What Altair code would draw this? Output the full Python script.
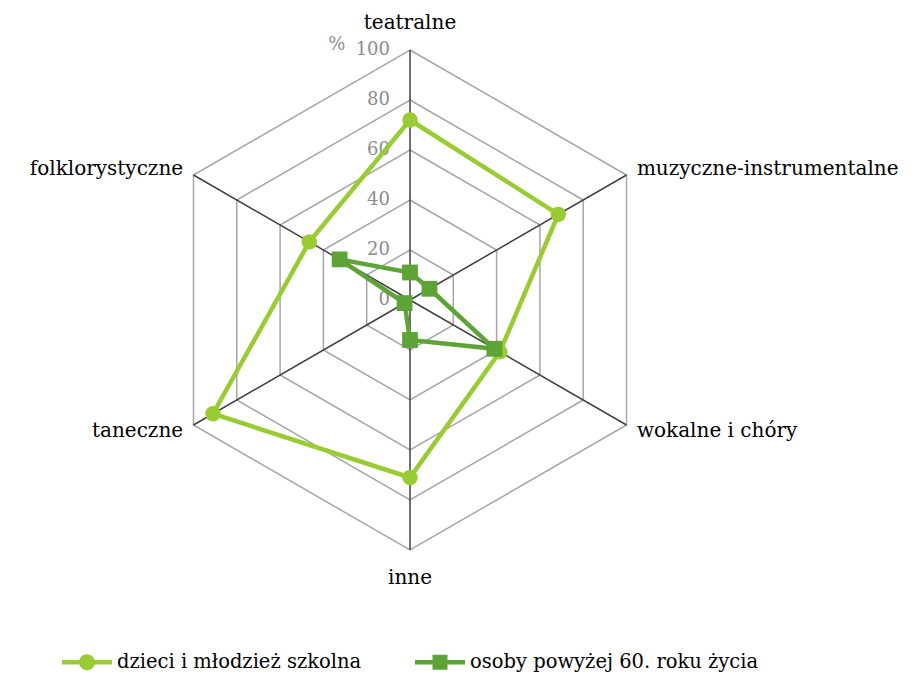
import altair as alt
import pandas as pd

# ---- data -------------------------------------------------------------
categories = ["teatralne", "muzyczne-instrumentalne", "wokalne i chóry",
              "inne", "taneczne", "folklorystyczne"]
series_names = ["dzieci i młodzież szkolna", "osoby powyżej 60. roku życia"]
dzieci = [72, 68.5, 41.5, 71, 91, 46.5]
seniorzy = [11, 9, 39, 16, 2.5, 32.5]
grid_levels = [20, 40, 60, 80, 100]
tick_labels = [0, 20, 40, 60, 80, 100]
unit_label = "%"

# ---- styles -----------------------------------------------------------
LIGHT = "#99CC33"
DARK = "#5EA336"
GRID = "#A6A6A6"
SPOKE = "#404040"
TICKC = "#8C8C8C"
FONT = "DejaVu Serif"

n = len(categories)
rows = []
for s, vals in zip(series_names, [dzieci, seniorzy]):
    for i, (c, v) in enumerate(zip(categories, vals)):
        rows.append({"series": s, "category": c, "idx": i, "value": v})
df = pd.DataFrame(rows)
grid = pd.DataFrame([{"level": l, "idx": i} for l in grid_levels for i in range(n)])
spokes = pd.DataFrame({"category": categories, "idx": list(range(n))})
ticks = pd.DataFrame({"tick": tick_labels, "label": [str(t) for t in tick_labels]})

ang = f"(datum.idx * 2 * PI / {n})"

W, H = 897, 640
XS = alt.Scale(domain=[-160.8, -160.8 + W / 2.5], nice=False, zero=False)
YS = alt.Scale(domain=[116.8 - H / 2.5, 116.8], nice=False, zero=False)


def X(f):
    return alt.X(f"{f}:Q", scale=XS, axis=None)


def Y(f):
    return alt.Y(f"{f}:Q", scale=YS, axis=None)


grid_layer = alt.Chart(grid).transform_calculate(
    gx=f"datum.level * sin({ang})", gy=f"datum.level * cos({ang})"
).mark_line(interpolate="linear-closed", color=GRID, strokeWidth=1.5).encode(
    x=X("gx"), y=Y("gy"), detail="level:N", order="idx:Q"
)

spoke_layer = alt.Chart(spokes).transform_calculate(
    x0="0", y0="0", sx=f"100 * sin({ang})", sy=f"100 * cos({ang})"
).mark_rule(color=SPOKE, strokeWidth=1.5).encode(
    x=X("x0"), y=Y("y0"), x2="sx:Q", y2="sy:Q"
)

tick_layer = alt.Chart(ticks).mark_text(
    align="right", baseline="middle", dx=-20, font=FONT, fontSize=18, color=TICKC
).encode(x=alt.X(datum=0, scale=XS, axis=None), y=Y("tick"), text="label:N")

unit_layer = alt.Chart(pd.DataFrame({"t": [unit_label]})).mark_text(
    align="center", baseline="middle", font=FONT, fontSize=18, color=TICKC
).encode(x=alt.X(datum=-29.3, scale=XS, axis=None),
         y=alt.Y(datum=102, scale=YS, axis=None), text="t:N")

lab_base = alt.Chart(spokes).transform_calculate(
    rl=f"abs(sin({ang})) < 0.01 ? 111 : 104.8"
).transform_calculate(
    lx=f"datum.rl * sin({ang})", ly=f"datum.rl * cos({ang})", s=f"sin({ang})"
)
label_layers = []
for flt, al in [("abs(datum.s) < 0.01", "center"), ("datum.s >= 0.01", "left"),
                ("datum.s <= -0.01", "right")]:
    label_layers.append(
        lab_base.transform_filter(flt).mark_text(
            align=al, baseline="middle", font=FONT, fontSize=20, color="black"
        ).encode(x=X("lx"), y=Y("ly"), text="category:N")
    )

pts = alt.Chart(df).transform_calculate(
    px=f"datum.value * sin({ang})", py=f"datum.value * cos({ang})"
)

series_layers = []
for name, col, shape, size in [(series_names[0], LIGHT, "circle", 240),
                               (series_names[1], DARK, "square", 250)]:
    sub = pts.transform_filter(alt.datum.series == name)
    series_layers.append(
        sub.mark_line(interpolate="linear-closed", color=col, strokeWidth=4.5).encode(
            x=X("px"), y=Y("py"), order="idx:Q")
    )
    series_layers.append(
        sub.mark_point(filled=True, shape=shape, size=size, color=col, opacity=1).encode(
            x=X("px"), y=Y("py"))
    )

# legend (line with marker symbols)
path_circle = ("M-2.5,-0.22H2.5V0.22H-2.5Z "
               "M0.8,0A0.8,0.8 0 1,1 -0.8,0A0.8,0.8 0 1,1 0.8,0Z")
path_square = "M-2.5,-0.22H2.5V0.22H-2.5Z M-0.75,-0.75H0.75V0.75H-0.75Z"
leg = alt.Legend(title=None, orient="none", legendX=69, legendY=644,
                 direction="horizontal", symbolSize=400, symbolStrokeWidth=0,
                 symbolOpacity=1,
                 labelFont=FONT, labelFontSize=19.5, labelColor="black",
                 labelOffset=20, labelLimit=0, columnPadding=53, padding=0)
legend_layer = pts.transform_filter("datum.value < -1000").mark_point(
    filled=True, opacity=1).encode(
    x=X("px"), y=Y("py"),
    color=alt.Color("series:N", scale=alt.Scale(domain=series_names, range=[LIGHT, DARK]),
                    legend=leg),
    shape=alt.Shape("series:N", scale=alt.Scale(domain=series_names,
                                                range=[path_circle, path_square]),
                    legend=leg),
)

chart = alt.layer(
    grid_layer, spoke_layer, tick_layer, unit_layer, *label_layers,
    *series_layers, legend_layer
).properties(width=W, height=H, padding=0, background="white").configure_view(stroke=None)

chart.save("out.html", embed_options={"renderer": "svg", "actions": False})
